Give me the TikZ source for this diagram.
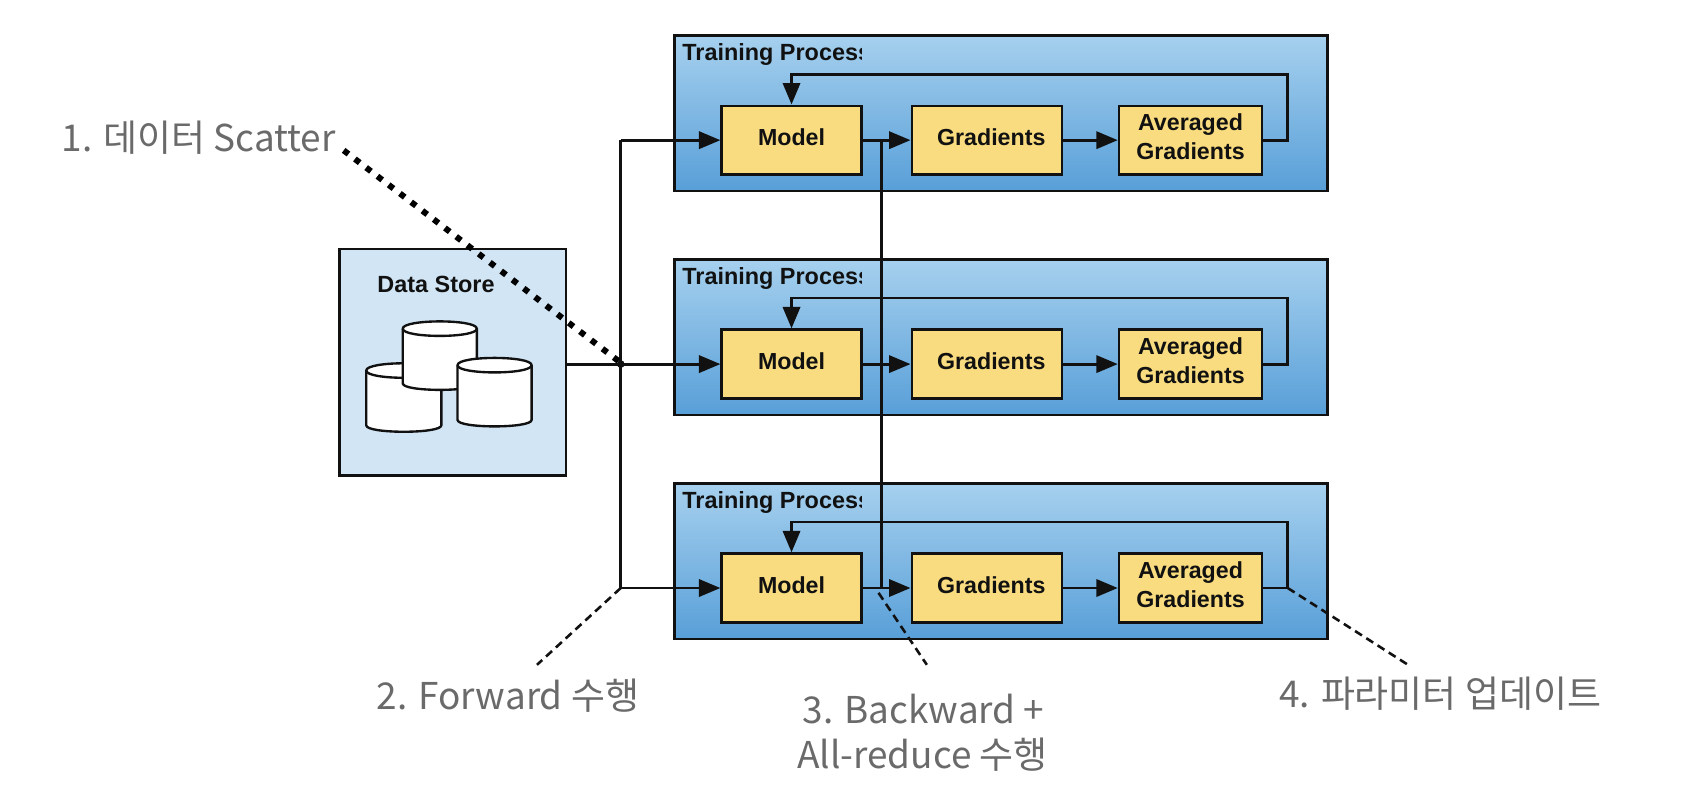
\documentclass[tikz,border=0pt]{standalone}
\usepackage{fontspec}
\setmainfont{Liberation Sans}
\newfontfamily\krfont{Noto Sans CJK KR}
\usetikzlibrary{arrows.meta,calc}
\definecolor{gradtop}{HTML}{A6D0EE}
\definecolor{gradbot}{HTML}{589FD8}
\definecolor{boxfill}{HTML}{F9DC7F}
\definecolor{storefill}{HTML}{D1E5F4}
\definecolor{linecol}{HTML}{111111}
\definecolor{labelcol}{HTML}{6A6A6A}
\newcommand{\dbcyl}[4]{%
  \draw[cyl] (#1,#3) .. controls (#1,#3-9) and (#2,#3-9) .. (#2,#3) -- (#2,#4)
    .. controls (#2,#4+8) and (#1,#4+8) .. (#1,#4) -- cycle;
  \draw[cyl,fill=none] (#1,#3) .. controls (#1,#3+9) and (#2,#3+9) .. (#2,#3);
}
\tikzset{
  x=0.5pt,y=-0.5pt,
  wire/.style={draw=linecol,line width=1.35pt},
  flow/.style={wire,-{Triangle[length=10pt,width=8pt]}},
  trainbox/.style={draw=linecol,line width=1.2pt,top color=gradtop,bottom color=gradbot,
    minimum width=304pt,minimum height=72.5pt,inner sep=0pt},
  stagebox/.style={draw=linecol,line width=1.2pt,fill=boxfill,minimum height=32pt,inner sep=0pt},
  stagetext/.style={align=center,inner sep=0pt,text=linecol,font=\fontsize{10.8}{13.4}\selectfont\bfseries},
  storebox/.style={draw=linecol,line width=1.2pt,fill=storefill,minimum width=105.5pt,minimum height=105.5pt,inner sep=0pt},
  cyl/.style={draw=linecol,line width=1.1pt,fill=white,line join=round},
  title/.style={font=\fontsize{10.9}{13}\selectfont\bfseries,inner sep=0pt,text=linecol},
  note/.style={font=\krfont\fontsize{17.2}{21}\selectfont,text=labelcol,inner sep=0pt},
  leader/.style={draw=linecol,line width=1.2pt,dash pattern=on 3.8pt off 2.4pt},
  scatterline/.style={draw=black,line width=2.8pt,dash pattern=on 2.8pt off 3.8pt},
}
\begin{document}
\begin{tikzpicture}
\useasboundingbox (0,0) rectangle (1568,730);
% data store
\node[storebox] (store) at (421.5,337.5) {};
\node[title] (storetitle) at (406,264.5) {Data Store};
\dbcyl{341}{411}{345}{396}
\dbcyl{375}{444}{306}{357}
\dbcyl{426}{495}{340}{391}
% training rows
\foreach \i/\o in {1/0,2/208.5,3/417}{
  \node[trainbox] (train\i) at (932,105.5+\o) {};
  \begin{scope}
    \clip (630,35+\o) rectangle (802,70+\o);
    \node[title,anchor=west] (title\i) at (635,50.5+\o) {Training Process};
  \end{scope}
  \node[stagebox,minimum width=65pt] (model\i) at (737,130.5+\o) {};
  \node[stagebox,minimum width=70pt] (grad\i) at (919,130.5+\o) {};
  \node[stagebox,minimum width=66.5pt] (avg\i) at (1108.5,130.5+\o) {};
  \node[stagetext] (modeltext\i) at (737,127.5+\o) {Model};
  \node[stagetext] (gradtext\i) at (923,127.5+\o) {Gradients};
  \node[stagetext] (avgtext\i) at (1108.5,127.5+\o) {Averaged\\Gradients};
  \coordinate (bus\i) at (821,130.5+\o);
  \coordinate (split\i) at (578,130.5+\o);
  \coordinate (turn\i) at (1199,130.5+\o);
  \coordinate (back\i) at (737,69+\o);
  \draw[flow] (split\i) -- (model\i.west);
  \draw[flow] (model\i.east) -- (grad\i.west);
  \draw[flow] (grad\i.east) -- (avg\i.west);
  \draw[flow] (avg\i.east) -- (turn\i) |- (back\i) -- (model\i.north);
}
\draw[wire] (split1) -- (split3);
\draw[wire] (bus1) -- (bus3);
\draw[wire] (store.east |- split2) -- (split2);
\fill[linecol] (split2) circle (1.8pt);
% labels
\node[note,anchor=west] (n1) at (57,128) {1. 데이터 Scatter};
\node[note] (n2) at (473,648) {2. Forward 수행};
\node[note] (n3) at (860,660) {3. Backward +};
\node[note] (n3b) at (859,703) {All-reduce 수행};
\node[note] (n4) at (1341,646) {4. 파라미터 업데이트};
\coordinate (e1) at (320,140);
\coordinate (e1b) at (577,337);
\coordinate (e2) at (500,619);
\coordinate (e3) at (818,552);
\coordinate (e3b) at (863,619);
\coordinate (e4) at (1311,619);
\draw[scatterline] (e1) -- (e1b);
\draw[leader] (split3) -- (e2);
\draw[leader] (e3) -- (e3b);
\draw[leader] (turn3) -- (e4);
\end{tikzpicture}
\end{document}
